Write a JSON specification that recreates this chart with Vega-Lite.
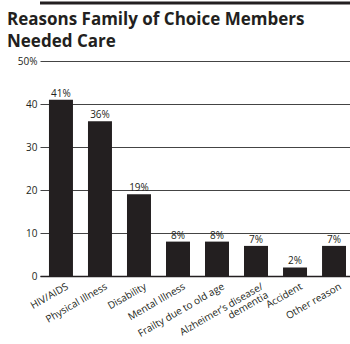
{
  "$schema": "https://vega.github.io/schema/vega-lite/v6.json",
  "autosize": {"type": "none"},
  "width": 315,
  "height": 215,
  "padding": {"left": 40, "top": 61, "right": 0, "bottom": 68},
  "background": "white",
  "title": {
    "text": ["Reasons Family of Choice Members", "Needed Care"],
    "anchor": "start",
    "frame": "group",
    "dx": -33,
    "dy": 50,
    "offset": 0,
    "font": "Open Sans",
    "fontSize": 17,
    "fontWeight": "bold",
    "color": "#231f20",
    "lineHeight": 22
  },
  "data": {
    "values": [
      {"reason": "HIV/AIDS", "pct": 41, "label": "41%"},
      {"reason": "Physical Illness", "pct": 36, "label": "36%"},
      {"reason": "Disability", "pct": 19, "label": "19%"},
      {"reason": "Mental Illness", "pct": 8, "label": "8%"},
      {"reason": "Frailty due to old age", "pct": 8, "label": "8%"},
      {"reason": "Alzheimer’s disease/ dementia", "pct": 7, "label": "7%"},
      {"reason": "Accident", "pct": 2, "label": "2%"},
      {"reason": "Other reason", "pct": 7, "label": "7%"}
    ]
  },
  "encoding": {
    "x": {
      "field": "reason",
      "type": "nominal",
      "sort": null,
      "scale": {"paddingInner": 0.385, "paddingOuter": 0.23},
      "axis": {
        "title": null,
        "labelAngle": -30,
        "labelAlign": "right",
        "labelBaseline": "top",
        "labelFont": "Open Sans",
        "labelFontSize": 10,
        "labelColor": "#231f20",
        "labelPadding": 5,
        "labelOffset": 4,
        "labelLineHeight": 10,
        "labelExpr": "datum.label == 'Alzheimer’s disease/ dementia' ? ['Alzheimer’s disease/', 'dementia'] : datum.label",
        "ticks": false,
        "domainColor": "#231f20",
        "domainWidth": 1.5,
        "labelOverlap": false
      }
    },
    "y": {
      "field": "pct",
      "type": "quantitative",
      "scale": {"domain": [0, 50]},
      "axis": {
        "title": null,
        "values": [0, 10, 20, 30, 40, 50],
        "labelExpr": "datum.value == 50 ? '50%' : datum.label",
        "labelFont": "Open Sans",
        "labelFontSize": 10,
        "labelColor": "#231f20",
        "labelPadding": 3,
        "ticks": false,
        "domain": false,
        "grid": true,
        "gridColor": "#444444",
        "gridWidth": 1
      }
    }
  },
  "layer": [
    {
      "data": {"values": [{"top": 63.5}]},
      "mark": {"type": "rule", "color": "#231f20", "strokeWidth": 3, "clip": false, "zindex": 2},
      "encoding": {"x": null, "y": {"field": "top", "type": "quantitative"}}
    },
    {"mark": {"type": "bar", "color": "#231f20"}},
    {
      "mark": {"type": "text", "dy": -6, "font": "Open Sans", "fontSize": 10, "color": "#231f20"},
      "encoding": {"text": {"field": "label", "type": "nominal"}}
    }
  ],
  "config": {"view": {"stroke": null}}
}
